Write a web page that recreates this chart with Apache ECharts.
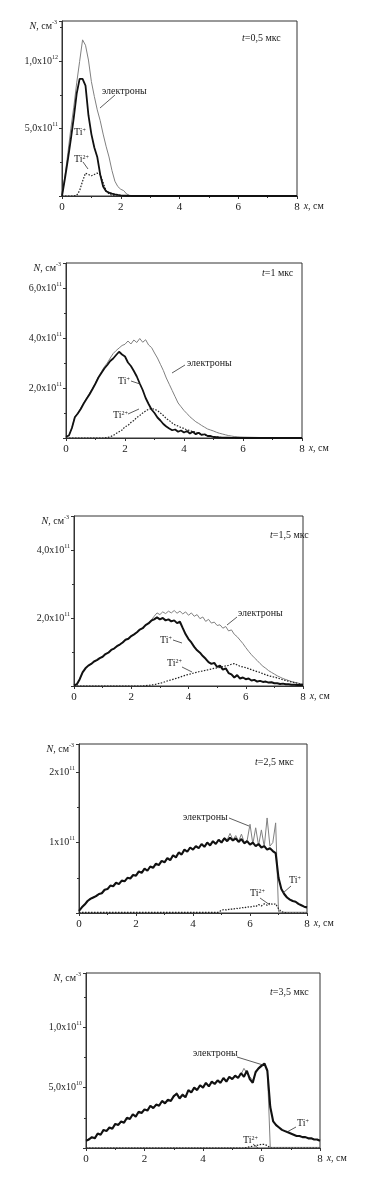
<!DOCTYPE html>
<html>
<head>
<meta charset="utf-8">
<script src="https://cdn.jsdelivr.net/npm/echarts@6/dist/echarts.min.js"></script>
<style>
html, body { margin: 0; padding: 0; background: #fff; }
#main { width: 368px; height: 1181px; }
</style>
</head>
<body>
<div id="main"></div>
<script>
"use strict";
// all densities in units of 1e10 cm^-3, x in cm

// x grid 0..8 step 0.1
var xGrid = [];
for (var i = 0; i <= 80; i++) xGrid.push(+(i / 10).toFixed(1));

/** t = 0,5 мкс **/
var x05 = [0, 0.1, 0.2, 0.3, 0.4, 0.5, 0.6, 0.7, 0.8, 0.9, 1.0, 1.1, 1.2, 1.3, 1.4, 1.5, 1.6, 1.7, 1.8, 1.9,
    2.0, 2.1, 2.2, 2.3, 2.4, 2.5, 3, 4, 5, 6, 7, 8];
var el05 = [0, 15, 32, 50, 66, 84, 100, 116, 112, 101, 85, 74, 64, 56, 46, 37, 29, 19, 11, 7,
    5, 4, 1.5, 0.5, 0.2, 0, 0, 0, 0, 0, 0, 0];
var ti1_05 = [0, 13, 27, 42, 58, 76, 87, 87, 82, 60, 46, 36, 29, 16, 7, 3.5, 2.5, 1.8, 1.2, 0.8,
    0.5, 0.3, 0.2, 0.1, 0, 0, 0, 0, 0, 0, 0, 0];
var ti2_05 = [0, 0, 0, 0, 0, 0.5, 4, 11, 17, 16, 15, 16, 17, 16, 10, 4, 1.5, 0.5, 0, 0,
    0, 0, 0, 0, 0, 0, 0, 0, 0, 0, 0, 0];

/** t = 1 мкс **/
var x1 = xGrid.slice(0, 61).concat([7, 8]);
var el1 = [0.5, 1, 4, 8.5, 10, 12, 14, 16, 18, 20,
    22, 24.5, 26.5, 28.5, 30, 32, 33.8, 35, 36, 37,
    37.5, 38.8, 37.6, 39.2, 38.2, 39.8, 38.3, 39.3, 37.2, 36.2,
    34, 32, 29.5, 27, 24, 21.5, 19, 16.5, 14, 12.5,
    11, 9.8, 8.5, 7.5, 6.5, 5.8, 5, 4.3, 3.6, 3.2,
    2.8, 2.3, 1.9, 1.6, 1.3, 1.0, 0.8, 0.6, 0.5, 0.4,
    0.35, 0.1, 0];
var ti1_1 = [0.5, 1, 4, 8.3, 9.8, 11.6, 13.8, 15.7, 17.5, 19.6,
    21.8, 24.2, 26, 27.8, 29.2, 30.8, 31.8, 33.2, 34.5, 33.4,
    32.6, 30.2, 28.8, 26.8, 24.6, 21.8, 19.2, 16, 13.6, 11.4,
    10, 8.2, 7, 5.6, 4.6, 3.8, 3.1, 3.4, 2.5, 3.0,
    2.2, 2.8, 1.8, 2.5, 1.5, 2.1, 1.2, 1.5, 0.8, 0.8,
    0.4, 0.3, 0.2, 0.15, 0.1, 0.1, 0.05, 0.05, 0, 0,
    0, 0, 0];
var ti2_1 = [0, 0, 0, 0, 0, 0, 0, 0, 0, 0,
    0, 0, 0, 0, 0.2, 0.5, 1, 1.8, 2.5, 3.2,
    4.5, 5, 6.2, 7, 8.2, 9, 10, 10.8, 11.5, 11.8,
    11.5, 11, 10, 9, 7.8, 7, 6, 5.2, 4.8, 4.2,
    3.8, 3.2, 3, 2.5, 2.4, 1.8, 1.6, 1.2, 1, 0.7,
    0.5, 0.4, 0.3, 0.2, 0.15, 0.1, 0, 0, 0, 0,
    0, 0, 0];

/** t = 1,5 мкс **/
var el15 = [0.2, 0.5, 2, 4, 5.2, 6, 6.5, 7.2, 7.6, 8.2,
    8.6, 9.4, 9.8, 10.6, 11, 11.7, 12.2, 12.8, 13.6, 13.9,
    14.7, 15.2, 15.8, 16.6, 17, 17.9, 18.4, 19.4, 20.5, 21.5,
    21, 21.8, 21.3, 22, 21.5, 22.2, 21.4, 22, 21.2, 21.8,
    20.8, 21.5, 20.5, 21, 19.8, 20.3, 19, 19.6, 18.5, 18.8,
    17.8, 18, 17, 17.5, 16.2, 16.5, 15.2, 14.5, 13.5, 12.5,
    11.3, 10.2, 9.2, 8.3, 7.5, 6.6, 5.8, 5.2, 4.5, 4,
    3.5, 3, 2.6, 2.2, 1.9, 1.6, 1.3, 1.1, 0.9, 0.7,
    0.6];
var ti1_15 = [0.2, 0.5, 2, 4, 5.2, 6, 6.5, 7.2, 7.6, 8.2,
    8.6, 9.4, 9.8, 10.6, 11, 11.7, 12.2, 12.8, 13.6, 13.9,
    14.7, 15.2, 15.8, 16.6, 17, 17.9, 18.4, 19.2, 19.6, 20.2,
    19.6, 20, 19.3, 19.6, 19, 19.3, 18.5, 18.9, 17, 15.2,
    13.8, 12.8, 11.5, 10.5, 9.8, 8.8, 8, 7, 6.5, 6.8,
    5.6, 6, 4.8, 5.2, 3.8, 3.4, 2.5, 3.2, 2.2, 2.5,
    2, 2.2, 1.6, 1.8, 1.3, 1.5, 1.2, 1.3, 1, 1.1,
    0.8, 0.8, 0.6, 0.7, 0.5, 0.5, 0.4, 0.4, 0.3, 0.3,
    0.3];
var ti2_15 = [0, 0, 0, 0, 0, 0, 0, 0, 0, 0,
    0, 0, 0, 0, 0, 0, 0, 0, 0, 0,
    0, 0, 0, 0, 0, 0.1, 0.2, 0.3, 0.4, 0.6,
    0.8, 1, 1.3, 1.6, 1.8, 2.1, 2.3, 2.6, 2.9, 3.2,
    3.4, 3.6, 3.9, 4, 4.3, 4.4, 4.6, 4.8, 5, 5.2,
    5.3, 5.5, 5.7, 5.9, 6.1, 6.4, 6.6, 6.2, 5.8, 5.6,
    5.4, 5.1, 4.8, 4.5, 4.2, 4, 3.6, 3.3, 3, 2.8,
    2.6, 2.4, 2.1, 1.8, 1.6, 1.4, 1.2, 1, 0.8, 0.6,
    0.5];

/** t = 2,5 мкс **/
var el25 = [0.3, 0.8, 1.3, 1.6, 2.1, 2.2, 2.5, 2.6, 2.9, 3.2,
    3.5, 3.8, 3.9, 4.2, 4.2, 4.5, 4.6, 4.9, 5.0, 5.3,
    5.4, 5.8, 5.8, 6.2, 6.1, 6.5, 6.5, 6.9, 6.9, 7.3,
    7.3, 7.7, 7.6, 8.1, 8.0, 8.5, 8.4, 8.9, 8.8, 9.2,
    9.1, 9.4, 9.3, 9.7, 9.5, 9.9, 9.7, 10.1, 9.9, 10.3,
    10.1, 10.7, 10.4, 11.3, 10.4, 11.0, 10.2, 11.2, 10.0, 10.3,
    12.6, 9.8, 12.1, 9.6, 11.8, 9.4, 13.5, 9.5, 10.0, 12.8,
    0.2, 0.1, 0.1, 0.1, 0.1, 0.1, 0.1, 0.1, 0.1, 0.1,
    0.1];
var ti1_25 = [0.3, 0.8, 1.2, 1.7, 2.0, 2.2, 2.4, 2.7, 2.8, 3.3,
    3.4, 3.9, 3.8, 4.3, 4.1, 4.6, 4.5, 5.0, 4.9, 5.4,
    5.3, 5.9, 5.7, 6.3, 6.0, 6.6, 6.4, 7.0, 6.8, 7.4,
    7.2, 7.8, 7.5, 8.2, 7.9, 8.6, 8.3, 9.0, 8.7, 9.3,
    9.0, 9.5, 9.2, 9.8, 9.4, 10.0, 9.6, 10.2, 9.8, 10.4,
    10.0, 10.6, 10.2, 10.7, 10.3, 10.6, 10.1, 10.5, 9.9, 10.2,
    9.7, 10.0, 9.5, 9.8, 9.3, 9.5, 9.0, 9.2, 8.8, 8.5,
    5.0, 3.4, 2.7, 2.2, 1.9, 1.7, 1.6, 1.3, 1.1, 0.9,
    0.8];
var ti2_25 = [0.1, 0.1, 0.1, 0.1, 0.1, 0.1, 0.1, 0.1, 0.1, 0.1,
    0.1, 0.1, 0.1, 0.1, 0.1, 0.1, 0.1, 0.1, 0.1, 0.1,
    0.1, 0.1, 0.1, 0.1, 0.1, 0.1, 0.1, 0.1, 0.1, 0.1,
    0.1, 0.1, 0.1, 0.1, 0.1, 0.1, 0.1, 0.1, 0.1, 0.1,
    0.1, 0.1, 0.1, 0.1, 0.1, 0.1, 0.1, 0.1, 0.1, 0.1,
    0.4, 0.5, 0.4, 0.6, 0.5, 0.7, 0.6, 0.8, 0.7, 0.9,
    0.8, 1.0, 0.9, 1.2, 1.0, 1.3, 1.1, 1.4, 1.2, 1.3,
    0.6, 0.2, 0.05, 0, 0, 0, 0, 0, 0, 0,
    0];

/** t = 3,5 мкс **/
var el35 = [0.6, 0.8, 0.8, 0.9, 1.1, 1.2, 1.4, 1.5, 1.6, 1.7,
    1.9, 2.0, 2.1, 2.2, 2.4, 2.5, 2.7, 2.7, 2.9, 3.0,
    3.1, 3.2, 3.4, 3.4, 3.5, 3.6, 3.8, 3.8, 3.9, 4.0,
    4.2, 4.6, 4.2, 4.5, 4.3, 4.7, 4.7, 4.9, 4.9, 5.1,
    5.1, 5.3, 5.2, 5.4, 5.4, 5.5, 5.5, 5.7, 5.6, 5.8,
    5.8, 5.9, 5.9, 6.1, 6.6, 6.2, 5.9, 5.6, 6.2, 6.7,
    6.9, 6.9, 6.5, 0.05, 0.05, 0.05, 0.05, 0.05, 0.05, 0.05,
    0.05, 0.05, 0.05, 0.05, 0.05, 0.05, 0.05, 0.05, 0.05, 0.05,
    0.05];
var ti1_35 = [0.6, 0.7, 0.9, 0.8, 1.2, 1.1, 1.5, 1.4, 1.7, 1.6,
    2.0, 1.9, 2.2, 2.1, 2.5, 2.4, 2.8, 2.6, 3.0, 2.9,
    3.2, 3.1, 3.5, 3.3, 3.6, 3.5, 3.9, 3.7, 4.0, 3.9,
    4.3, 4.5, 4.1, 4.4, 4.2, 4.8, 4.6, 5.0, 4.8, 5.2,
    5.0, 5.4, 5.1, 5.5, 5.3, 5.6, 5.4, 5.8, 5.5, 5.9,
    5.7, 6.0, 5.8, 6.2, 5.9, 6.4, 5.7, 5.4, 6.3, 6.6,
    6.8, 7.0, 6.4, 3.4, 2.2, 1.9, 1.7, 1.5, 1.4, 1.3,
    1.2, 1.1, 1.0, 1.0, 0.9, 0.9, 0.8, 0.8, 0.7, 0.7,
    0.6];
var ti2_35 = [0, 0, 0, 0, 0, 0, 0, 0, 0, 0,
    0, 0, 0, 0, 0, 0, 0, 0, 0, 0,
    0, 0, 0, 0, 0, 0, 0, 0, 0, 0,
    0, 0, 0, 0, 0, 0, 0, 0, 0, 0,
    0, 0, 0, 0, 0, 0, 0, 0, 0, 0,
    0, 0, 0, 0, 0, 0.05, 0.1, 0.15, 0.2, 0.25,
    0.3, 0.3, 0.2, 0, 0, 0, 0, 0, 0, 0,
    0, 0, 0, 0, 0, 0, 0, 0, 0, 0,
    0];

// y tick labels: value -> [mantissa, exponent]
var yLabels05 = {50: ['5,0x10', '11'], 100: ['1,0x10', '12']};
var yLabels1 = {20: ['2,0x10', '11'], 40: ['4,0x10', '11'], 60: ['6,0x10', '11']};
var yLabels15 = {20: ['2,0x10', '11'], 40: ['4,0x10', '11']};
var yLabels25 = {10: ['1x10', '11'], 20: ['2x10', '11']};
var yLabels35 = {5: ['5,0x10', '10'], 10: ['1,0x10', '11']};
var xTicks = [0, 2, 4, 6, 8];

var FONT = "'Liberation Serif','Times New Roman',serif";
var INK = '#1a1a1a';
var rich = {
    m: {fontFamily: FONT, fontSize: 10, color: INK, lineHeight: 14},
    i: {fontFamily: FONT, fontSize: 10, fontStyle: 'italic', color: INK, lineHeight: 14},
    s: {fontFamily: FONT, fontSize: 6, color: INK, lineHeight: 7, verticalAlign: 'top'}
};

var panels = [
    {x: x05, el: el05, t1: ti1_05, t2: ti2_05, max: 130, step: 50, lab: yLabels05, w: 1.8,
        grid: {left: 62, top: 21, width: 235, height: 175}},
    {x: x1, el: el1, t1: ti1_1, t2: ti2_1, max: 70, step: 20, lab: yLabels1, w: 1.8,
        grid: {left: 66, top: 263, width: 236, height: 175}},
    {x: xGrid, el: el15, t1: ti1_15, t2: ti2_15, max: 50, step: 20, lab: yLabels15, w: 2,
        grid: {left: 74, top: 516, width: 229, height: 170}},
    {x: xGrid, el: el25, t1: ti1_25, t2: ti2_25, max: 24, step: 10, lab: yLabels25, w: 2.1,
        grid: {left: 79, top: 744, width: 228, height: 169}},
    {x: xGrid, el: el35, t1: ti1_35, t2: ti2_35, max: 14.5, step: 5, lab: yLabels35, w: 2.1,
        grid: {left: 86, top: 973, width: 234, height: 175}}
];

function pairs(xs, ys) {
    return xs.map(function (x, k) { return [x, ys[k]]; });
}

var grids = [], xAxes = [], yAxes = [], series = [];
panels.forEach(function (p, k) {
    grids.push({
        left: p.grid.left, top: p.grid.top, width: p.grid.width, height: p.grid.height,
        show: true, borderColor: '#333', borderWidth: 1, backgroundColor: 'transparent'
    });
    xAxes.push({
        gridIndex: k, type: 'value', min: 0, max: 8, interval: 2,
        name: '{i|x}, см', nameLocation: 'end', nameGap: 6,
        nameTextStyle: {fontFamily: FONT, fontSize: 10, color: INK, verticalAlign: 'top',
            padding: [3, 0, 0, 0], rich: rich},
        axisLine: {show: true, lineStyle: {color: '#333', width: 1}},
        axisTick: {show: true, inside: false, length: 3, lineStyle: {color: '#333'}},
        minorTick: {show: true, splitNumber: 2, length: 2, lineStyle: {color: '#333'}},
        splitLine: {show: false},
        axisLabel: {
            margin: 6, fontFamily: FONT, fontSize: 11, color: INK,
            formatter: function (v) { return xTicks.indexOf(v) >= 0 ? String(v) : ''; }
        }
    });
    yAxes.push({
        gridIndex: k, type: 'value', min: 0, max: p.max, interval: p.step,
        name: '{i|N}, см{s|-3}', nameLocation: 'end', nameGap: -5,
        nameTextStyle: {fontFamily: FONT, fontSize: 10, color: INK, align: 'right',
            verticalAlign: 'middle', lineHeight: 14, padding: [0, 5, 0, 0], rich: rich},
        axisLine: {show: true, lineStyle: {color: '#333', width: 1}},
        axisTick: {show: true, inside: false, length: 3, lineStyle: {color: '#333'}},
        minorTick: {show: true, splitNumber: 2, length: 2, lineStyle: {color: '#333'}},
        splitLine: {show: false},
        axisLabel: {
            margin: 4, fontFamily: FONT, fontSize: 10, color: INK, rich: rich,
            formatter: function (v) {
                var l = p.lab[v];
                return l ? '{m|' + l[0] + '}{s|' + l[1] + '}' : '';
            }
        }
    });
    series.push({
        name: 'электроны', type: 'line', xAxisIndex: k, yAxisIndex: k,
        data: pairs(p.x, p.el), showSymbol: false, symbol: 'none', z: 2,
        lineStyle: {color: '#808080', width: 1}
    });
    series.push({
        name: 'Ti2+', type: 'line', xAxisIndex: k, yAxisIndex: k,
        data: pairs(p.x, p.t2), showSymbol: false, symbol: 'none', z: 3,
        lineStyle: {color: '#222', width: 1.2, type: [1.5, 1.5]}
    });
    series.push({
        name: 'Ti+', type: 'line', xAxisIndex: k, yAxisIndex: k,
        data: pairs(p.x, p.t1), showSymbol: false, symbol: 'none', z: 4,
        lineStyle: {color: '#111', width: p.w}
    });
});

// annotations: [text, left, middleY]
var notes = [
    ['{i|t}=0,5 мкс', 242, 38], ['электроны', 102, 91], ['Ti{s|+}', 74, 132], ['Ti{s|2+}', 74, 159],
    ['{i|t}=1 мкс', 262, 273], ['электроны', 187, 363], ['Ti{s|+}', 118, 381], ['Ti{s|2+}', 113, 415],
    ['{i|t}=1,5 мкс', 270, 535], ['электроны', 238, 613], ['Ti{s|+}', 160, 640], ['Ti{s|2+}', 167, 663],
    ['{i|t}=2,5 мкс', 255, 762], ['электроны', 183, 817], ['Ti{s|2+}', 250, 893], ['Ti{s|+}', 289, 880],
    ['{i|t}=3,5 мкс', 270, 992], ['электроны', 193, 1053], ['Ti{s|2+}', 243, 1140], ['Ti{s|+}', 297, 1123]
];
// pointer strokes: [x1, y1, x2, y2]
var pointers = [
    [115, 95, 100, 108], [83, 162, 88, 169],
    [185, 365, 172, 373], [131, 381, 140, 384], [128, 414, 139, 409],
    [237, 617, 227, 625], [173, 640, 182, 643], [182, 667, 192, 672],
    [229, 818, 249, 826], [260, 898, 270, 905], [291, 886, 283, 893],
    [237, 1057, 263, 1065], [253, 1144, 258, 1148], [296, 1127, 287, 1132]
];

var graphic = [];
notes.forEach(function (n) {
    graphic.push({
        type: 'text', x: n[1], y: n[2], z: 10,
        style: {
            text: n[0], fill: INK, font: '10px ' + FONT, align: 'left', verticalAlign: 'middle',
            rich: rich
        }
    });
});
pointers.forEach(function (a) {
    graphic.push({
        type: 'line', z: 10,
        shape: {x1: a[0], y1: a[1], x2: a[2], y2: a[3]},
        style: {stroke: '#333', lineWidth: 0.8}
    });
});

var chart = echarts.init(document.getElementById('main'), null, {renderer: 'canvas'});
chart.setOption({
    animation: false,
    backgroundColor: '#fff',
    grid: grids,
    xAxis: xAxes,
    yAxis: yAxes,
    series: series,
    graphic: graphic
});
</script>
</body>
</html>
